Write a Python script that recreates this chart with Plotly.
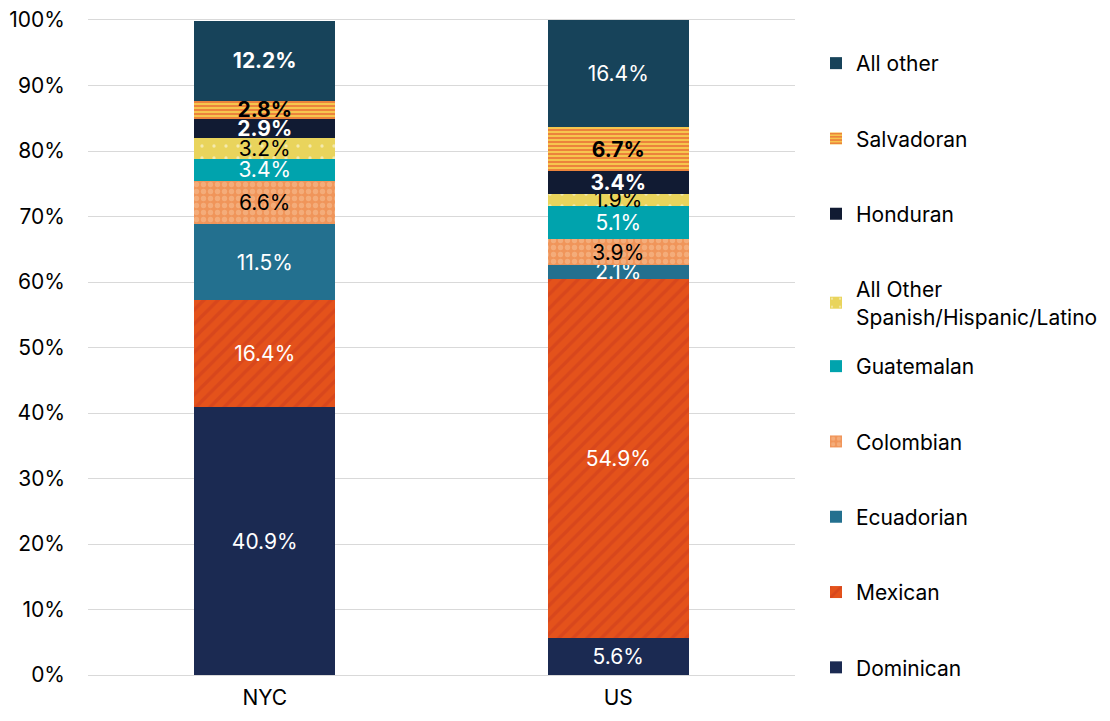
import plotly.graph_objects as go

categories = ["NYC", "US"]
series_names = ["Dominican", "Mexican", "Ecuadorian", "Colombian", "Guatemalan",
                "All Other<br>Spanish/Hispanic/Latino", "Honduran", "Salvadoran", "All other"]
dominican = [40.9, 5.6]
mexican = [16.4, 54.9]
ecuadorian = [11.5, 2.1]
colombian = [6.6, 3.9]
guatemalan = [3.4, 5.1]
all_other_spanish = [3.2, 1.9]
honduran = [2.9, 3.4]
salvadoran = [2.8, 6.7]
all_other = [12.2, 16.4]

values = [dominican, mexican, ecuadorian, colombian, guatemalan,
          all_other_spanish, honduran, salvadoran, all_other]

styles = [
    dict(color="#1B2A52", pattern=None, txt=["white", "white"], bold=[False, False]),
    dict(color="#E4521B", pattern=dict(shape="/", bgcolor="#E4521B", fgcolor="#CC3C1E", size=10, solidity=0.35),
         txt=["white", "white"], bold=[False, False]),
    dict(color="#23708F", pattern=None, txt=["white", "white"], bold=[False, False]),
    dict(color="#F0955A", pattern=dict(shape=".", bgcolor="#F0955A", fgcolor="#F8C49A", size=7, solidity=0.45),
         txt=["black", "black"], bold=[False, False]),
    dict(color="#00A3AD", pattern=None, txt=["white", "white"], bold=[False, False]),
    dict(color="#E9D45C", pattern=dict(shape=".", bgcolor="#E9D45C", fgcolor="#FFFFFF", size=12, solidity=0.06),
         txt=["black", "black"], bold=[False, False]),
    dict(color="#111B33", pattern=None, txt=["white", "white"], bold=[True, True]),
    dict(color="#F6C64E", pattern=dict(shape="-", bgcolor="#F6C64E", fgcolor="#E2402A", size=4, solidity=0.5),
         txt=["black", "black"], bold=[True, True]),
    dict(color="#17435A", pattern=None, txt=["white", "white"], bold=[True, False]),
]
# first five series go in the lower legend block, the rest in the upper one
legend_ids = ["legend2"] * 5 + ["legend"] * 4

FONT = "Inter"
FS = 21
fig = go.Figure()
n = len(series_names)
for i, (name, vals, st, lg) in enumerate(zip(series_names, values, styles, legend_ids)):
    texts = []
    for v, b in zip(vals, st["bold"]):
        t = f"{v:.1f}%"
        texts.append(f"<b>{t}</b>" if b else t)
    marker = dict(color=st["color"], line=dict(width=0))
    if st["pattern"]:
        marker["pattern"] = st["pattern"]
    fig.add_trace(go.Bar(
        x=categories, y=vals, name=name, marker=marker,
        text=texts, textposition="inside", insidetextanchor="middle",
        textangle=0, textfont=dict(color=st["txt"], size=FS, family=FONT),
        legendgroup=name, legendrank=n - i, legend=lg, hoverinfo="skip",
    ))

legend_common = dict(traceorder="grouped", x=1.0297, xanchor="left", yanchor="top",
                     tracegroupgap=45, font=dict(size=FS, family=FONT), itemwidth=30,
                     bgcolor="rgba(0,0,0,0)")
fig.update_layout(
    barmode="stack",
    bargap=0.6,
    width=1102, height=713,
    margin=dict(l=80, r=315, t=12, b=46, autoexpand=False),
    paper_bgcolor="white", plot_bgcolor="white",
    font=dict(family=FONT, size=FS, color="black"),
    uniformtext=dict(minsize=FS, mode="show"),
    legend=dict(y=0.9649, **legend_common),
    legend2=dict(y=0.5023, **legend_common),
    showlegend=True,
)
fig.update_yaxes(range=[0, 100], dtick=10, ticksuffix="%", showgrid=True,
                 gridcolor="#D9D9D9", gridwidth=1, zeroline=False, showline=False, ticklabelstandoff=22,
                 ticklabeloverflow="allow", automargin=False, tickfont=dict(size=FS, family=FONT))
fig.update_xaxes(showgrid=False, showline=True, mirror=True, linecolor="#D9D9D9", linewidth=1,
                 automargin=False, tickfont=dict(size=FS, family=FONT), ticklabelstandoff=4)

fig.write_html("out.html")
